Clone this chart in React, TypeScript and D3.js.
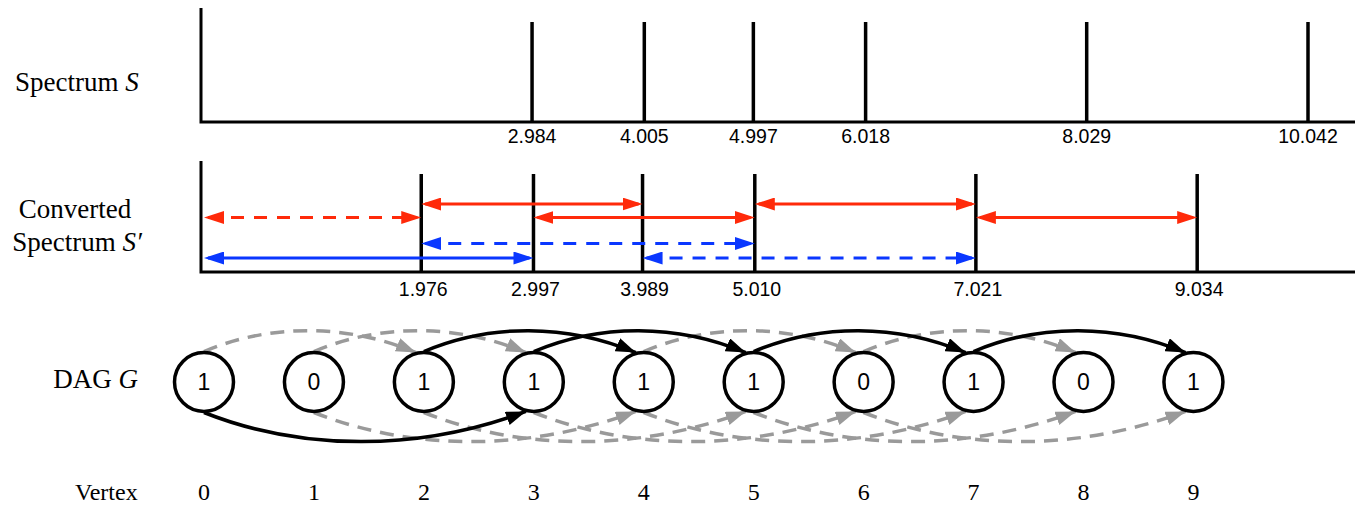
import * as d3 from 'd3'

// peaks of the two spectra
const spectrumS = [2.984, 4.005, 4.997, 6.018, 8.029, 10.042]
const spectrumSPrime = [1.976, 2.997, 3.989, 5.010, 7.021, 9.034]

// mass differences drawn as double arrows in S'
const redPairs = [[0, 1.976], [1.976, 3.989], [2.997, 5.010], [5.010, 7.021], [7.021, 9.034]]
const redDashed = [true, false, false, false, false]
const bluePairs = [[0, 2.997], [1.976, 5.010], [3.989, 7.021]]
const blueDashed = [false, true, true]

// DAG
const vertices = [0, 1, 2, 3, 4, 5, 6, 7, 8, 9]
const vertexBits = [1, 0, 1, 1, 1, 1, 0, 1, 0, 1]
const topEdges = [[0, 2], [1, 3], [2, 4], [3, 5], [4, 6], [5, 7], [6, 8], [7, 9]]
const bottomEdges = [[0, 3], [1, 4], [2, 5], [3, 6], [4, 7], [5, 8], [6, 9]]
const solidEdges = ['0-3', '2-4', '3-5', '5-7', '7-9']

const RED = '#ff2a0a'
const BLUE = '#0a37ff'
const GRAY = '#9a9a9a'
const SANS = '"Liberation Sans", Arial, Helvetica, sans-serif'
const SERIF = '"Liberation Serif", "Times New Roman", serif'

const W = 1358
const H = 510

export default function App() {
  const x = d3.scaleLinear().domain([0, 10.042]).range([204, 1308])
  const axisEnd = 1355

  const s1 = { top: 8, peak: 22, base: 122 }
  const s2 = { top: 161, peak: 174, base: 272 }

  const cy = 382
  const r = 29.5

  const arrowLine = (a: number, b: number, y: number) => {
    const p = d3.path()
    p.moveTo(x(a) + 4, y)
    p.lineTo(x(b) - 4, y)
    return p.toString()
  }

  const edgePath = (s: number, t: number, top: boolean) => {
    const xs = x(s), xt = x(t)
    const d = xt - xs
    const sign = top ? -1 : 1
    const y0 = cy + sign * (r + 1)
    const ang = (15 * Math.PI) / 180
    const ex = xt - (r + 1) * Math.sin(ang)
    const ey = cy + sign * (r + 1) * Math.cos(ang)
    const h = top ? 28 : 39
    const p = d3.path()
    p.moveTo(xs, y0)
    p.bezierCurveTo(xs + d * 0.3, y0 + sign * h, xt - d * 0.35, y0 + sign * h, ex, ey)
    return p.toString()
  }

  const edges = [
    ...topEdges.map(e => ({ s: e[0], t: e[1], top: true })),
    ...bottomEdges.map(e => ({ s: e[0], t: e[1], top: false })),
  ].map(e => ({ ...e, solid: solidEdges.includes(`${e.s}-${e.t}`) }))

  const marker = (id: string, color: string, len: number, wid: number, ref: number) => (
    <marker id={id} viewBox={`${-len} ${-wid / 2} ${len + 6} ${wid}`} refX={ref} refY={0}
      markerWidth={len + 6} markerHeight={wid} markerUnits="userSpaceOnUse" orient="auto-start-reverse">
      <path d={`M0,0L${-len},${-wid / 2}L${-len},${wid / 2}Z`} fill={color} />
    </marker>
  )

  return (
    <svg width={W} height={H} style={{ position: 'absolute', left: 0, top: 0, background: '#fff' }}>
      <defs>
        {marker('hRed', RED, 20, 13, -4)}
        {marker('hBlue', BLUE, 20, 13, -4)}
        {marker('hBlack', '#000', 20, 14, 0)}
        {marker('hGray', GRAY, 20, 14, 0)}
      </defs>

      {/* Spectrum S */}
      <text x={15} y={91} fontFamily={SERIF} fontSize={27}>Spectrum <tspan fontStyle="italic">S</tspan></text>
      <path d={`M${x(0) - 3},${s1.top}V${s1.base}H${axisEnd}`} fill="none" stroke="#000" strokeWidth={3} />
      {spectrumS.map(v => (
        <g key={v}>
          <line x1={x(v)} x2={x(v)} y1={s1.peak} y2={s1.base} stroke="#000" strokeWidth={3.5} />
          <text x={x(v)} y={143} textAnchor="middle" fontFamily={SANS} fontSize={19.5}>{v.toFixed(3)}</text>
        </g>
      ))}

      {/* Converted spectrum S' */}
      <text fontFamily={SERIF} fontSize={27} textAnchor="middle">
        <tspan x={75} y={218}>Converted</tspan>
        <tspan x={77} y={251}>Spectrum <tspan fontStyle="italic">S′</tspan></tspan>
      </text>
      <path d={`M${x(0) - 3},${s2.top}V${s2.base}H${axisEnd}`} fill="none" stroke="#000" strokeWidth={3} />
      {spectrumSPrime.map(v => (
        <g key={v}>
          <line x1={x(v)} x2={x(v)} y1={s2.peak} y2={s2.base} stroke="#000" strokeWidth={3.5} />
          <text x={x(v) + 2} y={295.5} textAnchor="middle" fontFamily={SANS} fontSize={19.5}>{v.toFixed(3)}</text>
        </g>
      ))}
      {redPairs.map((pr, i) => (
        <path key={`r${i}`} d={arrowLine(pr[0], pr[1], i % 2 === 0 ? 217.5 : 204)} fill="none"
          stroke={RED} strokeWidth={3} strokeDasharray={redDashed[i] ? '13 10' : undefined}
          markerStart="url(#hRed)" markerEnd="url(#hRed)" />
      ))}
      {bluePairs.map((pr, i) => (
        <path key={`b${i}`} d={arrowLine(pr[0], pr[1], i % 2 === 0 ? 258 : 243.5)} fill="none"
          stroke={BLUE} strokeWidth={3} strokeDasharray={blueDashed[i] ? '13 10' : undefined}
          markerStart="url(#hBlue)" markerEnd="url(#hBlue)" />
      ))}

      {/* DAG G */}
      <text x={138} y={388} textAnchor="end" fontFamily={SERIF} fontSize={27}>DAG <tspan fontStyle="italic">G</tspan></text>
      {edges.filter(e => !e.solid).map(e => (
        <path key={`g${e.s}-${e.t}`} d={edgePath(e.s, e.t, e.top)} fill="none" stroke={GRAY}
          strokeWidth={3.5} strokeDasharray="14 9" markerEnd="url(#hGray)" />
      ))}
      {edges.filter(e => e.solid).map(e => (
        <path key={`k${e.s}-${e.t}`} d={edgePath(e.s, e.t, e.top)} fill="none" stroke="#000"
          strokeWidth={3.5} markerEnd="url(#hBlack)" />
      ))}
      {vertices.map((v, i) => (
        <g key={v}>
          <circle cx={x(v)} cy={cy} r={r} fill="none" stroke="#000" strokeWidth={3.5} />
          <text x={x(v)} y={cy + 8} textAnchor="middle" fontFamily={SANS} fontSize={23}>{vertexBits[i]}</text>
        </g>
      ))}

      {/* Vertex row */}
      <text x={75} y={500} fontFamily={SERIF} fontSize={24}>Vertex</text>
      {vertices.map(v => (
        <text key={v} x={x(v)} y={500} textAnchor="middle" fontFamily={SERIF} fontSize={24}>{v}</text>
      ))}
    </svg>
  )
}
